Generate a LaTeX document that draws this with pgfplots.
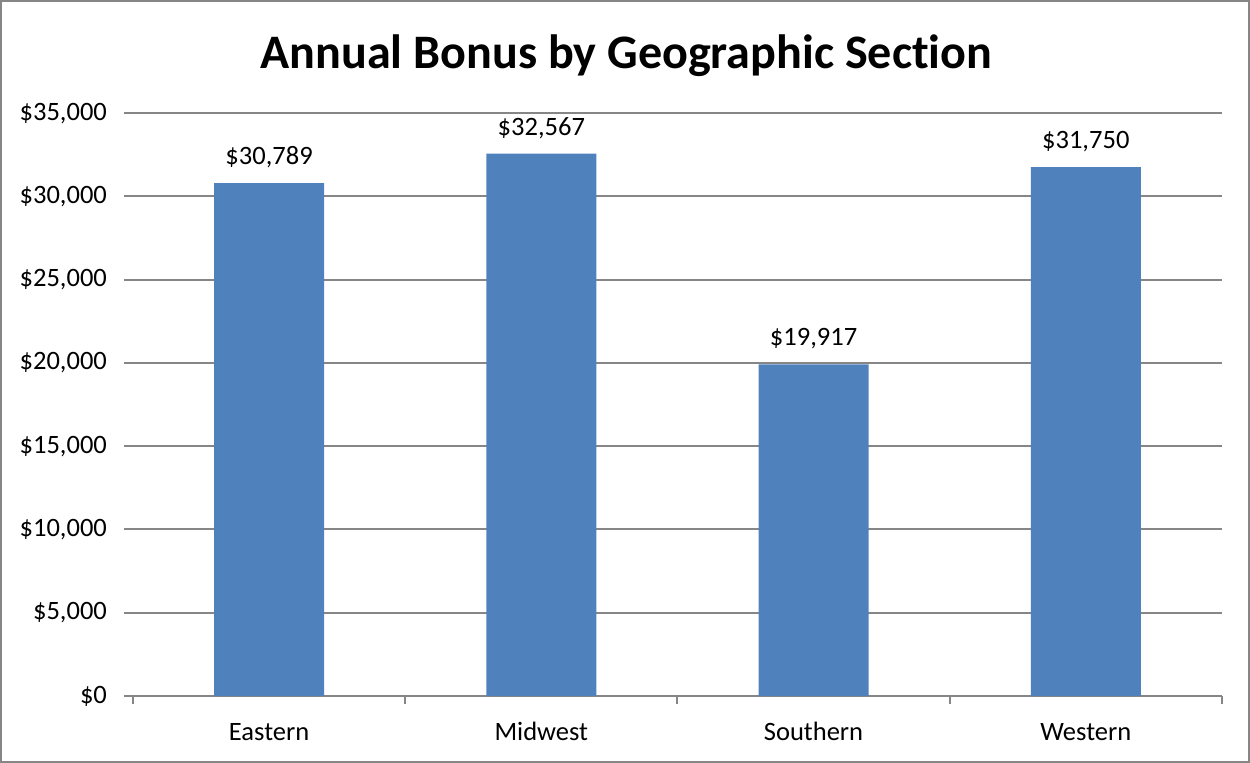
\documentclass[border=0pt]{standalone}
\usepackage{fontspec}
\setmainfont{Carlito}[Ligatures=NoCommon]
\usepackage{pgfplots}
\pgfplotsset{compat=1.18}
\definecolor{barblue}{HTML}{4F81BD}
\definecolor{gridgray}{HTML}{868686}
\begin{document}
\begin{tikzpicture}
\useasboundingbox (0,0) rectangle (480.77pt,-293.46pt);
\draw[gridgray, line width=0.6pt] (0.3pt,-0.3pt) rectangle (480.47pt,-293.16pt);
\node[anchor=base, font=\fontsize{18.5}{22}\selectfont\bfseries] at (240.9pt,-26.2pt) {Annual Bonus by Geographic Section};
\begin{axis}[
  at={(51.15pt,-267.7pt)}, anchor=south west,
  width=418.8pt, height=224.2pt, scale only axis,
  xmin=-0.5, xmax=3.5, ymin=0, ymax=35000,
  ybar, bar width=42.3pt,
  axis line style={draw=none},
  xtick={0,1,2,3}, xticklabels={Eastern,Midwest,Southern,Western},
  minor xtick={-0.5,0.5,1.5,2.5,3.5},
  every major x tick/.append style={draw=none},
  every minor x tick/.append style={gridgray, line width=0.75pt},
  every major y tick/.append style={gridgray, line width=0.75pt},
  tick align=outside, major tick length=3.5pt, minor tick length=3.1pt,
  xtick pos=bottom, ytick pos=left,
  ytick distance=5000, scaled y ticks=false,
  ymajorgrids, major grid style={gridgray, line width=0.75pt},
  /pgf/number format/assume math mode=true,
  yticklabel={\$\pgfmathprintnumber[fixed,precision=0,1000 sep={,}]{\tick}},
  yticklabel style={xshift=-3pt},
  xticklabel style={yshift=-3.6pt, text height=6.6pt, text depth=2pt},
  tick label style={font=\fontsize{10.2}{12}\selectfont, text=black},
  nodes near coords={\$\pgfmathprintnumber[fixed,precision=0,1000 sep={,}]{\pgfplotspointmeta}},
  every node near coord/.append style={font=\fontsize{10.2}{12}\selectfont, text=black, yshift=2.3pt},
  point meta=explicit,
]
\addplot[fill=barblue, draw=none, bar shift=0pt] coordinates {
  (0,30789) [30789]
  (1,32567) [32567]
  (2,19917) [19917]
  (3,31750) [31750]
};
\end{axis}
\end{tikzpicture}
\end{document}
